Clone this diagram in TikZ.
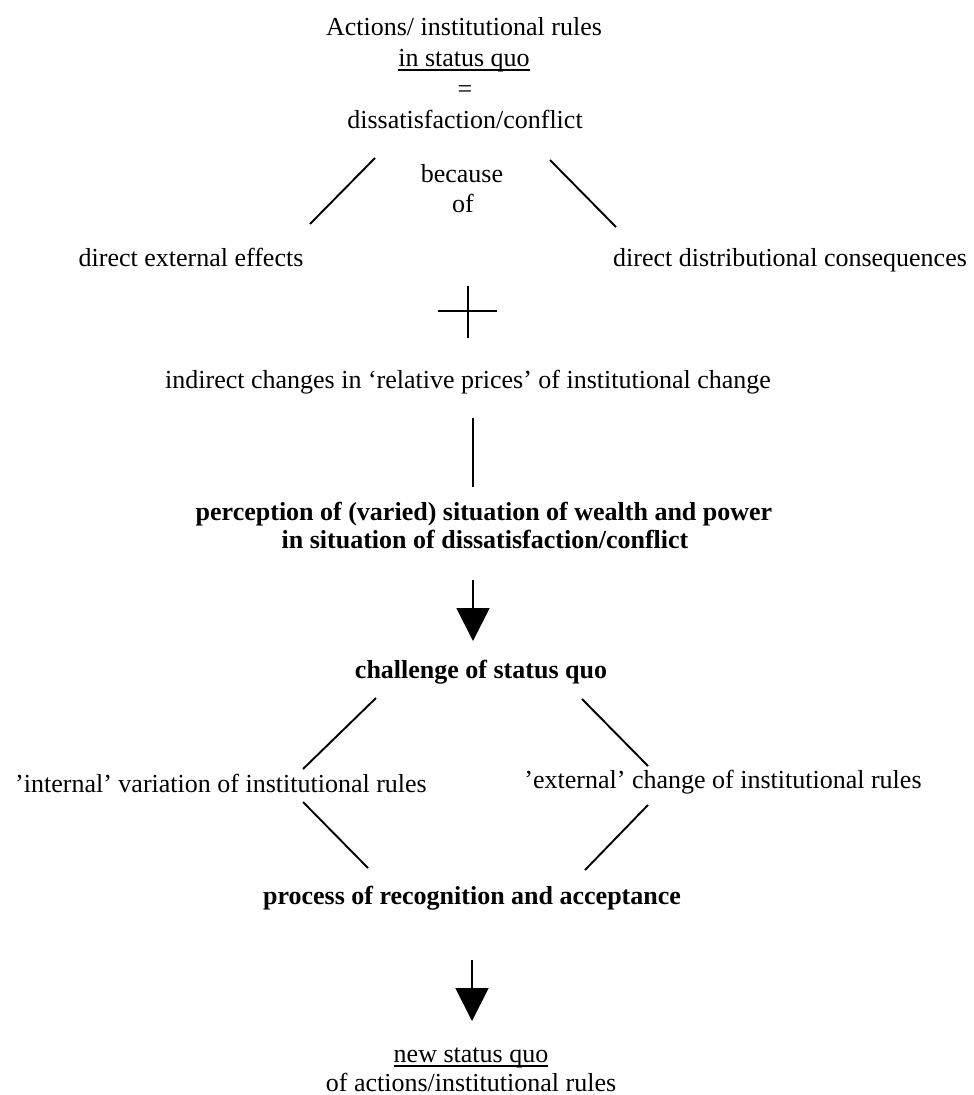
\documentclass[tikz,border=0pt]{standalone}
\usepackage{fontspec}
\setmainfont{Liberation Serif}
\usetikzlibrary{arrows.meta}
\begin{document}
\begin{tikzpicture}[x=1pt,y=-1pt,
  txt/.style={anchor=base,inner sep=0pt,font=\fontsize{26}{31}\selectfont},
  bf/.style={anchor=base,inner sep=0pt,font=\fontsize{26}{31}\selectfont\bfseries},
  ln/.style={line width=1.9pt},
  uline/.style={line width=1.4pt},
  arr/.style={line width=1.9pt,-{Triangle[width=33pt,length=33pt]}}]
\useasboundingbox (0,0) rectangle (974,1095);

% texts
\node[txt] (t1) at (464,35) {Actions/ institutional rules};
\node[txt] (t2) at (464,66) {in status quo};
\node[txt] (t3) at (465,97) {=};
\node[txt] (t4) at (465,128) {dissatisfaction/conflict};
\node[txt] (because) at (462,182) {because};
\node[txt] (of) at (463,212) {of};
\node[txt] (ext) at (191,266) {direct external effects};
\node[txt] (dist) at (790,266) {direct distributional consequences};
\node[txt] (ind) at (468,388) {indirect changes in ‘relative prices’ of institutional change};
\node[bf] (perc1) at (484,520) {perception of (varied) situation of wealth and power};
\node[bf] (perc2) at (485,548) {in situation of dissatisfaction/conflict};
\node[bf] (chal) at (481,678) {challenge of status quo};
\node[txt] (int) at (221,792) {’internal’ variation of institutional rules};
\node[txt] (extc) at (723,788) {’external’ change of institutional rules};
\node[bf] (proc) at (472,904) {process of recognition and acceptance};
\node[txt] (new1) at (471,1062) {new status quo};
\node[txt] (new2) at (471,1091) {of actions/institutional rules};

% underlines
\draw[uline] ([yshift=-4pt]t2.base west) -- ([yshift=-4pt]t2.base east);
\draw[uline] ([yshift=-4pt]new1.base west) -- ([yshift=-4pt]new1.base east);

% connector end points
\coordinate (a1) at (375,158); \coordinate (a2) at (310,224);
\coordinate (b1) at (550,160); \coordinate (b2) at (616,227);
\coordinate (c1) at (468,286); \coordinate (c2) at (468,338);
\coordinate (c3) at (438,311); \coordinate (c4) at (497,311);
\coordinate (v1) at (473,418); \coordinate (v2) at (473,487);
\coordinate (r1) at (473,580); \coordinate (r2) at (473,641);
\coordinate (d1) at (376,698); \coordinate (d2) at (303,769);
\coordinate (e1) at (582,699); \coordinate (e2) at (648,766);
\coordinate (f1) at (303,802); \coordinate (f2) at (368,868);
\coordinate (g1) at (648,805); \coordinate (g2) at (585,870);
\coordinate (s1) at (472,960); \coordinate (s2) at (472,1021);

% connectors
\draw[ln] (a1) -- (a2);
\draw[ln] (b1) -- (b2);
\draw[ln] (c1) -- (c2);
\draw[ln] (c3) -- (c4);
\draw[ln] (v1) -- (v2);
\draw[arr] (r1) -- (r2);
\draw[ln] (d1) -- (d2);
\draw[ln] (e1) -- (e2);
\draw[ln] (f1) -- (f2);
\draw[ln] (g1) -- (g2);
\draw[arr] (s1) -- (s2);
\end{tikzpicture}
\end{document}
